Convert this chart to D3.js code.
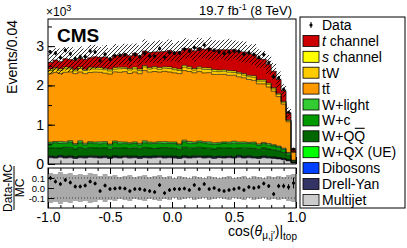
<!DOCTYPE html>
<html>
<head>
<meta charset="utf-8">
<script src="https://cdn.jsdelivr.net/npm/d3@7"></script>
<style>
  body { margin: 0; background: #fff; }
  text { font-family: "Liberation Sans", Arial, Helvetica, sans-serif; }
</style>
</head>
<body>
<svg id="chart" width="407" height="248"></svg>
<script>
// bin contents, units of 10^3 events, 50 bins of 0.04 from -1 to 1
const multijet = [0.16,0.15,0.17,0.15,0.16,0.14,0.16,0.15,0.17,0.16,
  0.15,0.16,0.14,0.16,0.15,0.17,0.15,0.16,0.14,0.16,
  0.15,0.16,0.17,0.15,0.16,0.15,0.14,0.16,0.15,0.16,
  0.17,0.15,0.16,0.14,0.16,0.15,0.16,0.15,0.17,0.15,
  0.16,0.15,0.14,0.16,0.15,0.14,0.13,0.11,0.08,0.03];
const drellYan = [0.03,0.02,0.03,0.025,0.03,0.02,0.025,0.03,0.02,0.03,
  0.025,0.03,0.02,0.03,0.025,0.02,0.03,0.025,0.03,0.02,
  0.03,0.025,0.02,0.03,0.025,0.03,0.02,0.03,0.025,0.03,
  0.02,0.03,0.025,0.03,0.02,0.025,0.03,0.02,0.03,0.025,
  0.03,0.02,0.025,0.03,0.02,0.025,0.02,0.02,0.015,0.005];
const dibosons = [0.008,0.01,0.007,0.009,0.008,0.01,0.008,0.007,0.009,0.008,
  0.01,0.008,0.009,0.007,0.008,0.01,0.009,0.008,0.007,0.009,
  0.008,0.01,0.008,0.009,0.007,0.008,0.01,0.008,0.009,0.008,
  0.007,0.009,0.008,0.01,0.008,0.009,0.007,0.008,0.01,0.008,
  0.009,0.008,0.007,0.009,0.008,0.007,0.007,0.006,0.004,0.001];
const wqx = [0.01,0.012,0.008,0.01,0.015,0.01,0.008,0.012,0.01,0.01,
  0.009,0.012,0.01,0.008,0.011,0.01,0.014,0.009,0.01,0.012,
  0.01,0.008,0.011,0.01,0.009,0.012,0.01,0.008,0.01,0.013,
  0.01,0.009,0.011,0.01,0.012,0.008,0.01,0.011,0.009,0.01,
  0.012,0.01,0.009,0.01,0.011,0.009,0.008,0.007,0.005,0.002];
const wqq = [0.20,0.22,0.19,0.23,0.21,0.20,0.22,0.19,0.21,0.20,
  0.22,0.20,0.19,0.21,0.22,0.20,0.19,0.21,0.20,0.22,
  0.21,0.19,0.20,0.22,0.21,0.20,0.19,0.22,0.21,0.20,
  0.22,0.21,0.20,0.19,0.21,0.22,0.20,0.21,0.19,0.21,
  0.20,0.21,0.19,0.20,0.19,0.18,0.17,0.15,0.11,0.03];
const wc = [0.11,0.13,0.12,0.10,0.13,0.11,0.12,0.10,0.12,0.11,
  0.10,0.12,0.11,0.13,0.10,0.11,0.12,0.11,0.10,0.12,
  0.11,0.13,0.12,0.10,0.11,0.12,0.11,0.14,0.12,0.11,
  0.12,0.13,0.11,0.12,0.10,0.12,0.11,0.13,0.11,0.12,
  0.11,0.12,0.10,0.11,0.10,0.10,0.09,0.08,0.06,0.02];
const wlight = [0.04,0.03,0.05,0.04,0.04,0.03,0.05,0.04,0.03,0.04,
  0.05,0.04,0.03,0.04,0.05,0.04,0.03,0.04,0.04,0.05,
  0.04,0.03,0.04,0.05,0.04,0.04,0.03,0.04,0.05,0.04,
  0.04,0.03,0.05,0.04,0.04,0.03,0.04,0.05,0.04,0.04,
  0.03,0.04,0.04,0.03,0.04,0.03,0.03,0.03,0.02,0.01];
const ttbar = [1.74,1.76,1.73,1.77,1.75,1.78,1.75,1.77,1.76,1.78,
  1.77,1.74,1.78,1.76,1.77,1.79,1.76,1.78,1.77,1.79,
  1.78,1.80,1.77,1.79,1.78,1.76,1.79,1.77,1.78,1.76,
  1.77,1.75,1.76,1.74,1.73,1.72,1.70,1.68,1.66,1.63,
  1.60,1.57,1.53,1.49,1.44,1.36,1.26,1.12,0.78,0.20];
const tW = [0.08,0.09,0.08,0.09,0.08,0.07,0.09,0.08,0.09,0.08,
  0.08,0.09,0.08,0.07,0.09,0.08,0.09,0.08,0.08,0.09,
  0.08,0.09,0.07,0.08,0.09,0.08,0.08,0.09,0.08,0.07,
  0.08,0.09,0.08,0.08,0.07,0.08,0.08,0.07,0.08,0.07,
  0.07,0.08,0.07,0.07,0.07,0.06,0.06,0.05,0.035,0.01];
const sChannel = [0.04,0.035,0.04,0.045,0.035,0.04,0.04,0.035,0.045,0.04,
  0.04,0.035,0.045,0.04,0.04,0.035,0.04,0.045,0.04,0.035,
  0.04,0.04,0.045,0.035,0.04,0.04,0.035,0.045,0.04,0.04,
  0.035,0.04,0.04,0.045,0.04,0.035,0.04,0.04,0.035,0.04,
  0.035,0.04,0.035,0.035,0.03,0.03,0.025,0.02,0.015,0.005];
const tChannel = [0.17,0.19,0.18,0.21,0.20,0.23,0.22,0.25,0.24,0.27,
  0.26,0.29,0.28,0.31,0.30,0.33,0.32,0.35,0.34,0.37,
  0.38,0.37,0.40,0.39,0.42,0.41,0.44,0.43,0.46,0.45,
  0.48,0.47,0.50,0.49,0.52,0.51,0.53,0.54,0.53,0.55,
  0.55,0.54,0.54,0.52,0.47,0.42,0.35,0.27,0.18,0.05];

// (Data-MC)/MC and relative MC uncertainty per bin
const ratio = [0.10,0.065,0.04,0.08,0.055,0.015,0.015,0.025,0.065,0.045,
  -0.03,0.025,-0.01,-0.005,0.0,-0.005,-0.03,-0.01,-0.01,-0.02,
  -0.03,-0.04,0.03,-0.05,-0.02,-0.01,-0.01,-0.005,-0.02,0.03,
  -0.01,0.04,-0.01,0.0,-0.02,-0.03,-0.02,-0.01,0.0,-0.02,
  0.01,0.0,0.01,0.045,0.02,-0.06,0.02,0.02,0.01,0.05];
const mcUnc = [0.15,0.14,0.16,0.14,0.15,0.13,0.14,0.13,0.15,0.14,
  0.12,0.14,0.12,0.13,0.11,0.12,0.13,0.11,0.12,0.13,
  0.11,0.12,0.13,0.11,0.12,0.10,0.12,0.11,0.10,0.12,
  0.11,0.10,0.12,0.11,0.10,0.11,0.12,0.10,0.11,0.12,
  0.10,0.12,0.11,0.10,0.12,0.11,0.12,0.11,0.13,0.14];

const yTicks = [0, 1, 2, 3];
const xTicks = [-1, -0.5, 0, 0.5, 1];
const ratioTicks = [-0.1, 0, 0.1];

// stack order bottom -> top
const keys = ["multijet","drellYan","dibosons","wqx","wqq","wc","wlight","ttbar","tW","sChannel","tChannel"];
const series = {multijet, drellYan, dibosons, wqx, wqq, wc, wlight, ttbar, tW, sChannel, tChannel};
const colors = {
  tChannel: "#cc0000", sChannel: "#ffff00", tW: "#ffcc00", ttbar: "#ff9900",
  wlight: "#33cc33", wc: "#009900", wqq: "#006600", wqx: "#00ff00",
  dibosons: "#0040ff", drellYan: "#333366", multijet: "#cccccc"
};

const bw = 0.04;
const binLo = d3.range(50).map(i => -1 + i * bw);

const left = 48, right = 296, mainTop = 19, mainBot = 164, ratTop = 168, ratBot = 208;
const x = d3.scaleLinear().domain([-1, 1]).range([left, right]);
const y = d3.scaleLinear().domain([0, 3.69]).range([mainBot, mainTop]);
const yr = d3.scaleLinear().domain([-0.2, 0.2]).range([ratBot, ratTop]);

const svg = d3.select("#chart");

const rows = binLo.map((lo, i) => {
  const r = {lo};
  keys.forEach(k => r[k] = series[k][i]);
  return r;
});
const stacked = d3.stack().keys(keys)(rows);
const total = rows.map(r => d3.sum(keys, k => r[k]));
const dataVals = total.map((t, i) => t * (1 + ratio[i]));

// step helpers
const steps = (lo, hi) => binLo.flatMap((b, i) => [
  {x: b, y0: lo(i), y1: hi(i)}, {x: b + bw, y0: lo(i), y1: hi(i)}
]);
const area = (sy) => d3.area().x(d => x(d.x)).y0(d => sy(d.y0)).y1(d => sy(d.y1));
const topLine = d3.line().x(d => x(d.x)).y(d => y(d.y1));

const defs = svg.append("defs");
defs.append("clipPath").attr("id", "clipMain")
  .append("rect").attr("x", left).attr("y", mainTop).attr("width", right - left).attr("height", mainBot - mainTop);
defs.append("clipPath").attr("id", "clipRat")
  .append("rect").attr("x", left).attr("y", ratTop).attr("width", right - left).attr("height", ratBot - ratTop);
const pat = defs.append("pattern").attr("id", "hatch")
  .attr("patternUnits", "userSpaceOnUse").attr("width", 4).attr("height", 4);
pat.append("path").attr("d", "M-1,1 l2,-2 M0,4 l4,-4 M3,5 l2,-2")
  .attr("stroke", "#000").attr("stroke-width", 0.8);

// main panel
const gMain = svg.append("g").attr("clip-path", "url(#clipMain)");
stacked.forEach(layer => {
  const pts = steps(i => layer[i][0], i => layer[i][1]);
  gMain.append("path").attr("d", area(y)(pts)).attr("fill", colors[layer.key]);
});
stacked.forEach(layer => {
  const pts = steps(i => layer[i][0], i => layer[i][1]);
  gMain.append("path").attr("d", topLine(pts))
    .attr("fill", "none").attr("stroke", "#000").attr("stroke-width", 0.6);
});
gMain.append("path")
  .attr("d", area(y)(steps(i => total[i] * (1 - mcUnc[i] * 0.8), i => total[i] * (1 + mcUnc[i] * 0.8))))
  .attr("fill", "url(#hatch)");

binLo.forEach((b, i) => {
  const cx = x(b + bw / 2), v = dataVals[i], e = Math.sqrt(v * 1000) / 1000;
  gMain.append("line").attr("x1", cx).attr("x2", cx).attr("y1", y(v - e)).attr("y2", y(v + e))
    .attr("stroke", "#000").attr("stroke-width", 1);
  gMain.append("circle").attr("cx", cx).attr("cy", y(v)).attr("r", 1.6).attr("fill", "#000");
});

// ratio panel
const gRat = svg.append("g").attr("clip-path", "url(#clipRat)");
gRat.append("path")
  .attr("d", area(yr)(steps(i => -mcUnc[i], i => mcUnc[i])))
  .attr("fill", "#aaaaaa");
[-0.1, 0.1].forEach(v => {
  gRat.append("line").attr("x1", left).attr("x2", right).attr("y1", yr(v)).attr("y2", yr(v))
    .attr("stroke", "#222").attr("stroke-width", 0.8).attr("stroke-dasharray", "1,2");
});
binLo.forEach((b, i) => {
  const cx = x(b + bw / 2), e = Math.sqrt(dataVals[i] * 1000) / 1000 / total[i];
  gRat.append("line").attr("x1", cx).attr("x2", cx).attr("y1", yr(ratio[i] - e)).attr("y2", yr(ratio[i] + e))
    .attr("stroke", "#000").attr("stroke-width", 1);
  gRat.append("circle").attr("cx", cx).attr("cy", yr(ratio[i])).attr("r", 1.6).attr("fill", "#000");
});

// frames
[[mainTop, mainBot], [ratTop, ratBot]].forEach(([t, b]) => {
  svg.append("rect").attr("x", left).attr("y", t).attr("width", right - left).attr("height", b - t)
    .attr("fill", "none").attr("stroke", "#000").attr("stroke-width", 1);
});

// axes
const styleAxis = (g, fs) => {
  g.select(".domain").remove();
  g.selectAll("line").attr("stroke", "#000");
  g.selectAll("text").attr("font-size", fs).attr("fill", "#000")
    .attr("font-family", "'Liberation Sans', Arial, sans-serif");
};
const minorX = d3.range(-1, 1.001, 0.1);
const minorY = d3.range(0, 3.6, 0.5);

svg.append("g").attr("transform", `translate(${left},0)`)
  .call(d3.axisLeft(y).tickValues(yTicks).tickSize(-7).tickPadding(4).tickFormat(d3.format("d")))
  .call(g => styleAxis(g, 14));
svg.append("g").attr("transform", `translate(${left},0)`)
  .call(d3.axisLeft(y).tickValues(minorY).tickSize(-4).tickFormat(""))
  .call(g => styleAxis(g, 0));
svg.append("g").attr("transform", `translate(0,${mainBot})`)
  .call(d3.axisBottom(x).tickValues(minorX).tickSize(-3.5).tickFormat(""))
  .call(g => styleAxis(g, 0));
svg.append("g").attr("transform", `translate(0,${mainBot})`)
  .call(d3.axisBottom(x).tickValues(xTicks).tickSize(-7).tickFormat(""))
  .call(g => styleAxis(g, 0));

svg.append("g").attr("transform", `translate(0,${ratBot})`)
  .call(d3.axisBottom(x).tickValues(minorX).tickSize(-3).tickFormat(""))
  .call(g => styleAxis(g, 0));
svg.append("g").attr("transform", `translate(0,${ratBot})`)
  .call(d3.axisBottom(x).tickValues(xTicks).tickSize(-6).tickPadding(4).tickFormat(d => d.toFixed(1)))
  .call(g => styleAxis(g, 14));
svg.append("g").attr("transform", `translate(0,${ratTop})`)
  .call(d3.axisTop(x).tickValues(minorX).tickSize(-3).tickFormat(""))
  .call(g => styleAxis(g, 0));
svg.append("g").attr("transform", `translate(0,${ratTop})`)
  .call(d3.axisTop(x).tickValues(xTicks).tickSize(-6).tickFormat(""))
  .call(g => styleAxis(g, 0));
svg.append("g").attr("transform", `translate(${left},0)`)
  .call(d3.axisLeft(yr).tickValues(ratioTicks).tickSize(-6).tickPadding(3).tickFormat(d => d.toFixed(1)))
  .call(g => styleAxis(g, 9.5));

// titles
const t10 = svg.append("text").attr("x", left - 2).attr("y", 16).attr("font-size", 12);
t10.append("tspan").text("×10");
t10.append("tspan").attr("dy", -5).attr("font-size", 9).text("3");

svg.append("text").attr("x", 57).attr("y", 42).attr("font-size", 19).attr("font-weight", "bold").text("CMS");

const lumi = svg.append("text").attr("x", 292).attr("y", 15).attr("font-size", 13).attr("text-anchor", "end");
lumi.append("tspan").text("19.7 fb");
lumi.append("tspan").attr("dy", -5).attr("font-size", 9).text("-1");
lumi.append("tspan").attr("dy", 5).text(" (8 TeV)");

svg.append("text").attr("transform", "translate(17,20) rotate(-90)")
  .attr("text-anchor", "end").attr("font-size", 14).text("Events/0.04");

const frac = svg.append("g").attr("transform", "translate(14,188) rotate(-90)");
frac.append("text").attr("x", 0).attr("y", -2).attr("text-anchor", "middle").attr("font-size", 12).text("Data-MC");
frac.append("line").attr("x1", -22).attr("x2", 22).attr("y1", 0).attr("y2", 0).attr("stroke", "#000").attr("stroke-width", 1);
frac.append("text").attr("x", 0).attr("y", 10).attr("text-anchor", "middle").attr("font-size", 12).text("MC");

const xt = svg.append("text").attr("x", 297).attr("y", 236).attr("font-size", 14).attr("text-anchor", "end");
xt.append("tspan").text("cos(");
xt.append("tspan").attr("font-style", "italic").text("θ");
xt.append("tspan").attr("dy", 3).attr("font-size", 10).text("μ,j′");
xt.append("tspan").attr("dy", -3).text(")|");
xt.append("tspan").attr("dy", 4).attr("font-size", 10).text("top");

// legend
const legendItems = [
  {key: "data", parts: [["Data"]]},
  {key: "tChannel", parts: [["t", "italic"], [" channel"]]},
  {key: "sChannel", parts: [["s", "italic"], [" channel"]]},
  {key: "tW", parts: [["tW"]]},
  {key: "ttbar", parts: [["t"], ["t", "over", 10]]},
  {key: "wlight", parts: [["W+light"]]},
  {key: "wc", parts: [["W+c"]]},
  {key: "wqq", parts: [["W+Q"], ["Q", "over", 13]]},
  {key: "wqx", parts: [["W+QX (UE)"]]},
  {key: "dibosons", parts: [["Dibosons"]]},
  {key: "drellYan", parts: [["Drell-Yan"]]},
  {key: "multijet", parts: [["Multijet"]]}
];
svg.append("rect").attr("x", 300).attr("y", 17).attr("width", 105).attr("height", 191)
  .attr("fill", "#fff").attr("stroke", "#000").attr("stroke-width", 1);
legendItems.forEach((it, k) => {
  const cy = 25 + 15.9 * k;
  if (it.key === "data") {
    svg.append("line").attr("x1", 311).attr("x2", 311).attr("y1", cy - 3).attr("y2", cy + 3).attr("stroke", "#000");
    svg.append("circle").attr("cx", 311).attr("cy", cy).attr("r", 1.6).attr("fill", "#000");
  } else {
    svg.append("rect").attr("x", 303).attr("y", cy - 5.5).attr("width", 16).attr("height", 11)
      .attr("fill", colors[it.key]).attr("stroke", "#000").attr("stroke-width", 0.8);
  }
  const base = cy + 5;
  const t = svg.append("text").attr("x", 322).attr("y", base).attr("font-size", 14);
  let xOff = 322;
  it.parts.forEach(([s, st, h]) => {
    const ts = t.append("tspan").text(s);
    if (st === "italic") ts.attr("font-style", "italic");
    const w = ts.node().getComputedTextLength();
    if (st === "over") {
      svg.append("line").attr("x1", xOff + 0.5).attr("x2", xOff + w - 0.5)
        .attr("y1", base - h).attr("y2", base - h).attr("stroke", "#000").attr("stroke-width", 1.1);
    }
    xOff += w;
  });
});
</script>
</body>
</html>
